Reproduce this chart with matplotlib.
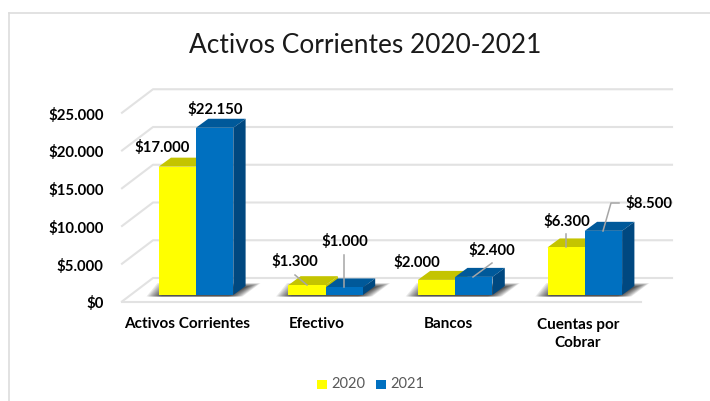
import matplotlib
matplotlib.use("Agg")
import matplotlib.pyplot as plt
from matplotlib.patches import Polygon, Rectangle

plt.rcParams['font.family'] = ['Lato', 'DejaVu Sans']

categories = ['Activos Corrientes', 'Efectivo', 'Bancos', 'Cuentas por\nCobrar']
values_2020 = [17000, 1300, 2000, 6300]
values_2021 = [22150, 1000, 2400, 8500]
yticks = [0, 5000, 10000, 15000, 20000, 25000]
ytick_labels = ['$0', '$5.000', '$10.000', '$15.000', '$20.000', '$25.000']
series_names = ['2020', '2021']

W, H = 710, 401
X_STEP = 129.6      # px between categories
Y_SCALE = 0.00755   # px per unit of value
X0, Y0 = 196, 295   # px of first category centre and of the bar base


def money(v):
    return '$' + f'{v:,}'.replace(',', '.')


fig = plt.figure(figsize=(W / 100, H / 100), dpi=100)
ax = fig.add_axes([0, 0, 1, 1])
ax.set_xlim(-X0 / X_STEP, (W - X0) / X_STEP)
ax.set_ylim((Y0 - H) / Y_SCALE, Y0 / Y_SCALE)
ax.axis('off')

# sizes below are in axis units, converted from px
px = 1 / X_STEP
py = 1 / Y_SCALE
bar_w = 37.3 * px
dep_x, dep_y = 12.3 * px, 9 * py
floor_dx, floor_dy = 31 * px, 23.5 * py
wall_y = 17 * py      # the back wall's zero line sits above the bar base
front_y = wall_y - floor_dy
left, right = (122 - X0) * px, (641 - X0) * px
grid_c = '#e2e2e2'

# chart frame
ax.plot([(9.5 - X0) * px] * 2, [(Y0 - 12.5) * py, (Y0 - H) * py], color='#dddddd', lw=1.2)
ax.plot([(9.5 - X0) * px, (W - X0) * px], [(Y0 - 12.5) * py] * 2, color='#dddddd', lw=1.2)

# walls and floor lines
for v in yticks:
    yb = v + wall_y
    yf = v + front_y
    ax.plot([left, left + floor_dx, right + floor_dx], [yf, yb, yb], color=grid_c, lw=1.5, zorder=1)
ax.plot([left, right], [front_y, front_y], color=grid_c, lw=1.5, zorder=1)


def bar_3d(x, v, front, top, side):
    ax.add_patch(Polygon([(x, v), (x + dep_x, v + dep_y), (x + bar_w + dep_x, v + dep_y), (x + bar_w, v)],
                         fc=top, ec='none', zorder=4))
    ax.add_patch(Polygon([(x + bar_w, 0), (x + bar_w + dep_x, dep_y), (x + bar_w + dep_x, v + dep_y), (x + bar_w, v)],
                         fc=side, ec='none', zorder=4))
    ax.add_patch(Rectangle((x, 0), bar_w, v, fc=front, ec='none', zorder=5))


def shadow(i):
    # soft shadow cast on the floor, built from stacked translucent layers
    xl = i - bar_w
    xr = i + bar_w
    for k in range(12):
        g = (11 - k) * 1.3 * px - 5 * px
        h = (11 - k) * 0.35 * py
        ax.add_patch(Polygon([(xl - 3 * px - g, -1.5 * py), (xr + g, -1.5 * py),
                              (xr + 18 * px + g, 8 * py + h), (xl + 8 * px - g, 8 * py + h)],
                             fc='black', ec='none', alpha=0.085, zorder=2))


for i, (a, b) in enumerate(zip(values_2020, values_2021)):
    shadow(i)
    bar_3d(i - bar_w, a, '#ffff00', '#c4c400', '#c4c400')
    bar_3d(i, b, '#0070c0', '#00599a', '#004880')

# y axis labels
for v, lab in zip(yticks, ytick_labels):
    ax.text(-92.5 * px, v + front_y - 2.3 * py, lab, ha='right', va='center',
            fontsize=10.7, fontweight='bold', color='black')

# category labels
label_x = [187.5, 317, 448, 578]
for x, lab in zip(label_x, categories):
    ax.text((x - X0) * px, -(317.5 - Y0) * py, lab, ha='center', va='top', fontsize=11,
            fontweight='bold', color='black', linespacing=1.45)

# value labels, (x, y) in px of the label centre
pos_2020 = [(162, 147.5), (295, 262), (417, 262.5), (567, 222)]
pos_2021 = [(215, 110), (345, 242), (492, 250.5), (648.5, 204)]
for vals, pos in ((values_2020, pos_2020), (values_2021, pos_2021)):
    for v, (x, y) in zip(vals, pos):
        ax.text((x - X0) * px, (Y0 - y) * py, money(v), ha='center', va='center',
                fontsize=10.7, fontweight='bold', color='black', zorder=7)

# leader lines from label to bar
leaders = [[(295, 275), (307, 285)], [(344, 255), (344, 287)], [(492, 263), (473, 277)],
           [(566, 234), (566, 247)], [(619, 203), (611, 203), (603, 231)]]
for pts in leaders:
    ax.plot([(p[0] - X0) * px for p in pts], [(Y0 - p[1]) * py for p in pts],
            color='#a6a6a6', lw=1.1, zorder=6)

ax.text((365 - X0) * px, (Y0 - 45.5) * py, 'Activos Corrientes 2020-2021', ha='center', va='center',
        fontsize=18.9, color='#1a1a1a')

# legend
for x, name, col in zip([317, 376], series_names, ['#ffff00', '#0070c0']):
    ax.add_patch(Rectangle(((x - X0) * px, (Y0 - 388.5) * py), 10 * px, 9 * py, fc=col, ec='none'))
    ax.text((x + 14 - X0) * px, (Y0 - 384) * py, name, ha='left', va='center', fontsize=10.5, color='#595959')

fig.savefig('out.png', dpi=100)
